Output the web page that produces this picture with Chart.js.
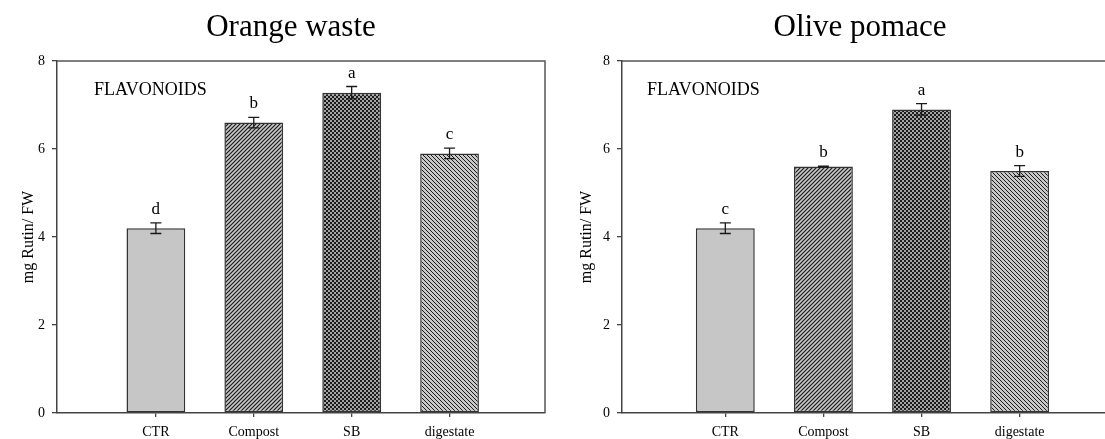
<!DOCTYPE html>
<html>
<head>
<meta charset="utf-8">
<script src="https://cdn.jsdelivr.net/npm/chart.js@4.4.1/dist/chart.umd.min.js"></script>
<style>
  body { margin: 0; background: #fff; width: 1105px; height: 439px; position: relative; overflow: hidden; }
  canvas { position: absolute; top: 0; }
</style>
</head>
<body>
<canvas id="orange" width="560" height="439" style="left:0"></canvas>
<canvas id="olive" width="545" height="439" style="left:560px"></canvas>
<script>
// data
const categories = ['CTR', 'Compost', 'SB', 'digestate'];
const yTicks = [0, 2, 4, 6, 8];

const orangeValues = [4.2, 6.6, 7.28, 5.9];
const orangeErrors = [0.12, 0.12, 0.14, 0.12];
const orangeLetters = ['d', 'b', 'a', 'c'];

const oliveValues = [4.2, 5.6, 6.9, 5.5];
const oliveErrors = [0.12, 0.01, 0.13, 0.12];
const oliveLetters = ['c', 'b', 'a', 'b'];

const FONT = "'Liberation Serif', 'Times New Roman', serif";

// fill patterns (like SigmaPlot hatches)
function hatch(ctx, dir, lw) {
  const c = document.createElement('canvas');
  c.width = c.height = 4;
  const g = c.getContext('2d');
  g.fillStyle = '#c8c8c8';
  g.fillRect(0, 0, 4, 4);
  g.strokeStyle = '#1a1a1a';
  g.lineWidth = lw;
  g.beginPath();
  if (dir > 0) {
    g.moveTo(-1, 5); g.lineTo(5, -1);
    g.moveTo(-1, 1); g.lineTo(1, -1);
    g.moveTo(3, 5); g.lineTo(5, 3);
  } else {
    g.moveTo(-1, -1); g.lineTo(5, 5);
    g.moveTo(-1, 3); g.lineTo(1, 5);
    g.moveTo(3, -1); g.lineTo(5, 1);
  }
  g.stroke();
  return ctx.createPattern(c, 'repeat');
}

function checker(ctx) {
  const c = document.createElement('canvas');
  c.width = c.height = 4;
  const g = c.getContext('2d');
  g.fillStyle = '#a4a4a4';
  g.fillRect(0, 0, 4, 4);
  g.fillStyle = '#1c1c1c';
  g.fillRect(0, 0, 2, 2);
  g.fillRect(2, 2, 2, 2);
  return ctx.createPattern(c, 'repeat');
}

// error bars, significance letters, frame and texts
const extrasPlugin = {
  id: 'extras',
  afterDatasetsDraw(chart, args, opts) {
    const { ctx, chartArea: a, scales: { x, y } } = chart;
    ctx.save();
    // top and right frame lines
    ctx.strokeStyle = '#555';
    ctx.lineWidth = 1.5;
    ctx.beginPath();
    ctx.moveTo(a.left, a.top);
    ctx.lineTo(a.right, a.top);
    if (opts.rightLine) ctx.lineTo(a.right, a.bottom);
    ctx.stroke();

    // error bars
    ctx.strokeStyle = '#1a1a1a';
    ctx.lineWidth = 1.3;
    ctx.fillStyle = '#000';
    ctx.font = '17px ' + FONT;
    ctx.textAlign = 'center';
    ctx.textBaseline = 'alphabetic';
    opts.values.forEach((v, i) => {
      const px = x.getPixelForValue(i + 1);
      const top = y.getPixelForValue(v + opts.errors[i]);
      const bot = y.getPixelForValue(v - opts.errors[i]);
      ctx.beginPath();
      ctx.moveTo(px, top); ctx.lineTo(px, bot);
      ctx.moveTo(px - 5.5, top); ctx.lineTo(px + 5.5, top);
      ctx.moveTo(px - 5.5, bot); ctx.lineTo(px + 5.5, bot);
      ctx.stroke();
      ctx.fillText(opts.letters[i], px, top - 9);
    });

    // panel note
    ctx.textAlign = 'left';
    ctx.font = '18px ' + FONT;
    ctx.fillText('FLAVONOIDS', a.left + opts.noteDx, 95);

    // panel title
    ctx.textAlign = 'center';
    ctx.font = '31px ' + FONT;
    ctx.fillText(opts.title, opts.titleX, 36);
    ctx.restore();
  }
};

function makeChart(id, values, errors, letters, cfg) {
  const el = document.getElementById(id);
  const ctx = el.getContext('2d');
  const fills = ['#c6c6c6', hatch(ctx, 1, 1.2), checker(ctx), hatch(ctx, -1, 1.0)];
  return new Chart(ctx, {
    type: 'bar',
    data: {
      datasets: [{
        data: categories.map((c, i) => ({ x: i + 1, y: values[i] })),
        backgroundColor: fills,
        borderColor: '#333',
        borderWidth: 1.5,
        borderSkipped: false,
        barPercentage: 0.6,
        categoryPercentage: 1
      }]
    },
    options: {
      responsive: false,
      animation: false,
      layout: { padding: { top: 61, right: cfg.padRight, left: 0, bottom: 0 } },
      plugins: {
        legend: { display: false },
        tooltip: { enabled: false },
        extras: {
          values, errors, letters,
          title: cfg.title, titleX: cfg.titleX, noteDx: cfg.noteDx, rightLine: cfg.rightLine
        }
      },
      scales: {
        x: {
          type: 'linear',
          offset: false,
          min: cfg.xMin,
          max: cfg.xMax,
          afterBuildTicks: s => { s.ticks = categories.map((c, i) => ({ value: i + 1 })); },
          afterFit: s => { s.height = 26; },
          grid: { offset: false, drawOnChartArea: false, drawTicks: true, tickLength: 4, color: '#444', lineWidth: 1.3 },
          border: { display: true, color: '#444', width: 1.5 },
          ticks: {
            callback: v => categories[v - 1] || '',
            font: { family: FONT, size: 14 },
            color: '#000',
            padding: 7,
            maxRotation: 0,
            autoSkip: false
          }
        },
        y: {
          min: 0,
          max: 8,
          afterBuildTicks: s => { s.ticks = yTicks.map(v => ({ value: v })); },
          afterFit: s => { s.width = cfg.yWidth; },
          grid: { drawOnChartArea: false, drawTicks: true, tickLength: 5, color: '#444', lineWidth: 1.3 },
          border: { display: true, color: '#444', width: 1.5 },
          ticks: {
            font: { family: FONT, size: 14 },
            color: '#000',
            padding: 7
          },
          title: {
            display: true,
            text: 'mg Rutin/ FW',
            font: { family: FONT, size: 16 },
            color: '#000',
            padding: { top: cfg.yTitlePad, bottom: 0 }
          }
        }
      }
    },
    plugins: [extrasPlugin]
  });
}

makeChart('orange', orangeValues, orangeErrors, orangeLetters, {
  title: 'Orange waste', titleX: 291, noteDx: 37, rightLine: true,
  yWidth: 57, padRight: 15, xMin: -0.01, xMax: 4.975, yTitlePad: 19
});

makeChart('olive', oliveValues, oliveErrors, oliveLetters, {
  title: 'Olive pomace', titleX: 300, noteDx: 25, rightLine: false,
  yWidth: 62, padRight: 0, xMin: -0.053, xMax: 4.87, yTitlePad: 17
});
</script>
</body>
</html>
